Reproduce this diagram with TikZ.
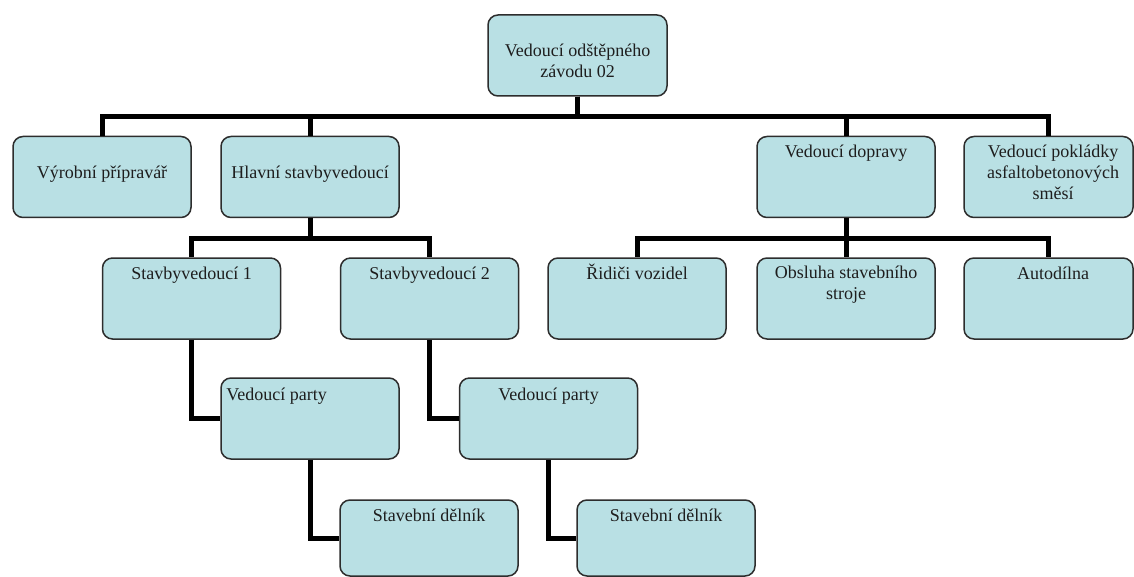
\documentclass[tikz,border=0pt]{standalone}
\usepackage{fontspec}
\setmainfont{Liberation Serif}
\definecolor{boxfill}{RGB}{185,224,228}
\definecolor{boxline}{RGB}{45,45,45}
\definecolor{txtcol}{RGB}{30,30,30}
\tikzset{
  orgbox/.style={draw=boxline, fill=boxfill, line width=1.5pt, rounded corners=10pt,
    minimum width=178pt, minimum height=81pt, inner sep=0pt},
  orgtxt/.style={font=\fontsize{18}{21}\selectfont, text=txtcol, align=center,
    inner sep=0pt, anchor=base},
  link/.style={line width=5pt, draw=black, line join=miter}
}
\begin{document}
\begin{tikzpicture}[x=1pt,y=-1pt]
\useasboundingbox (0,0) rectangle (1134,577);
% boxes
\node[orgbox, minimum width=179pt] (zavod) at (577.5,55.5) {};
\node[orgbox] (vyroba) at (102,177) {};
\node[orgbox] (hlavni) at (310,177) {};
\node[orgbox] (doprava) at (846,177) {};
\node[orgbox, minimum width=169pt] (pokladka) at (1048.5,177) {};
\node[orgbox] (sv1) at (191.5,298.5) {};
\node[orgbox] (sv2) at (429.5,298.5) {};
\node[orgbox] (ridici) at (637,298.5) {};
\node[orgbox] (obsluha) at (846,298.5) {};
\node[orgbox, minimum width=169pt] (autodilna) at (1048.5,298.5) {};
\node[orgbox] (parta1) at (310,418.5) {};
\node[orgbox] (parta2) at (548.5,418.5) {};
\node[orgbox, minimum height=76pt] (delnik1) at (429,538) {};
\node[orgbox, minimum height=76pt] (delnik2) at (666,538) {};
% texts (base = last line)
\node[orgtxt] (zavod-t) at ([yshift=-63pt]zavod.north) {Vedoucí odštěpného\\závodu 02};
\node[orgtxt] (vyroba-t) at ([yshift=-43pt]vyroba.north) {Výrobní přípravář};
\node[orgtxt] (hlavni-t) at ([yshift=-43pt]hlavni.north) {Hlavní stavbyvedoucí};
\node[orgtxt] (doprava-t) at ([yshift=-22pt]doprava.north) {Vedoucí dopravy};
\node[orgtxt] (pokladka-t) at ([xshift=4.5pt,yshift=-64pt]pokladka.north) {Vedoucí pokládky\\asfaltobetonových\\směsí};
\node[orgtxt] (sv1-t) at ([yshift=-22pt]sv1.north) {Stavbyvedoucí 1};
\node[orgtxt] (sv2-t) at ([yshift=-22pt]sv2.north) {Stavbyvedoucí 2};
\node[orgtxt] (ridici-t) at ([yshift=-22pt]ridici.north) {Řidiči vozidel};
\node[orgtxt] (obsluha-t) at ([yshift=-42pt]obsluha.north) {Obsluha stavebního\\stroje};
\node[orgtxt] (autodilna-t) at ([xshift=4.5pt,yshift=-22pt]autodilna.north) {Autodílna};
\node[orgtxt, anchor=base west] (parta1-t) at ([xshift=6pt,yshift=-23pt]parta1.north west) {Vedoucí party};
\node[orgtxt] (parta2-t) at ([yshift=-23pt]parta2.north) {Vedoucí party};
\node[orgtxt] (delnik1-t) at ([yshift=-22pt]delnik1.north) {Stavební dělník};
\node[orgtxt] (delnik2-t) at ([yshift=-22pt]delnik2.north) {Stavební dělník};
% connectors
\draw[link] (zavod.south) -- ++(0,20) -| (vyroba.north);
\draw[link] (zavod.south) -- ++(0,20) -| (hlavni.north);
\draw[link] (zavod.south) -- ++(0,20) -| (doprava.north);
\draw[link] (zavod.south) -- ++(0,20) -| (pokladka.north);
\draw[link] (hlavni.south) -- ++(0,20) -| (sv1.north);
\draw[link] (hlavni.south) -- ++(0,20) -| (sv2.north);
\draw[link] (doprava.south) -- ++(0,20) -| (ridici.north);
\draw[link] (doprava.south) -- ++(0,20) -| (obsluha.north);
\draw[link] (doprava.south) -- ++(0,20) -| (autodilna.north);
\draw[link] (sv1.south) |- (parta1.west);
\draw[link] (sv2.south) |- (parta2.west);
\draw[link] (parta1.south) |- (delnik1.west);
\draw[link] (parta2.south) |- (delnik2.west);
\end{tikzpicture}
\end{document}
